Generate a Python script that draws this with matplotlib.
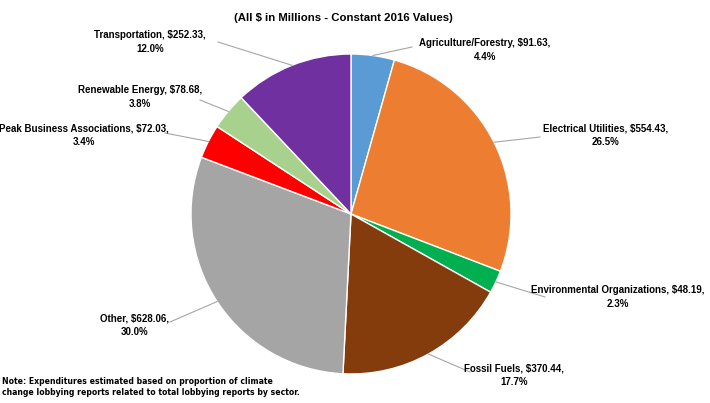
import matplotlib.pyplot as plt
import numpy as np

sectors = ['Agriculture/Forestry', 'Electrical Utilities', 'Environmental Organizations',
           'Fossil Fuels', 'Other', 'Peak Business Associations', 'Renewable Energy',
           'Transportation']
spend = [91.63, 554.43, 48.19, 370.44, 628.06, 72.03, 78.68, 252.33]
shares = ['4.4%', '26.5%', '2.3%', '17.7%', '30.0%', '3.4%', '3.8%', '12.0%']
colors = ['#5B9BD5', '#ED7D31', '#00B050', '#843C0C', '#A5A5A5', '#FF0000',
          '#A9D18E', '#7030A0']

# label text centres (figure pixels, y from top) and leader line end points
label_pos = [(485, 50), (606, 135), (618, 297), (514, 375), (135, 325), (84, 135),
             (140, 97), (150, 42)]
line_end = [(412, 47), (540, 137), (545, 297), (470, 372), (170, 322), (165, 133),
            (200, 100), (218, 42)]

W, H = 710, 403
fig = plt.figure(figsize=(W / 100, H / 100), dpi=100)
cx, cy, r = 351, 214, 160
ax = fig.add_axes([(cx - r) / W, (H - cy - r) / H, 2 * r / W, 2 * r / H])
wedges, _ = ax.pie(spend, colors=colors, startangle=90, counterclock=False,
                   wedgeprops=dict(edgecolor='white', linewidth=1))
ax.set_xlim(-1, 1)
ax.set_ylim(-1, 1)
ax.set_aspect('auto')

def fpx(x, y):
    return (x / W, 1 - y / H)

for w, name, val, pct, lp, le in zip(wedges, sectors, spend, shares, label_pos, line_end):
    ang = np.deg2rad((w.theta1 + w.theta2) / 2)
    sx = cx + r * np.cos(ang)
    sy = cy - r * np.sin(ang)
    fig.add_artist(plt.Line2D([sx / W, le[0] / W], [1 - sy / H, 1 - le[1] / H],
                              color='#A6A6A6', linewidth=0.8))
    fig.text(*fpx(*lp), f'{name}, ${val:.2f},\n{pct}', ha='center', va='center',
             fontsize=7, fontweight='bold', family='Liberation Sans',
             linespacing=1.4)

fig.text(*fpx(343, 18), '(All $ in Millions - Constant 2016 Values)', ha='center',
         va='center', fontsize=8.2, fontweight='bold', family='Liberation Sans')
fig.text(2 / W, 1 - 377 / H, 'Note: Expenditures estimated based on proportion of climate\n'
         'change lobbying reports related to total lobbying reports by sector.',
         ha='left', va='top', fontsize=6.2, fontweight='bold', fontstretch='condensed',
         family='DejaVu Sans', linespacing=1.3)

fig.savefig('out.png', dpi=100)
